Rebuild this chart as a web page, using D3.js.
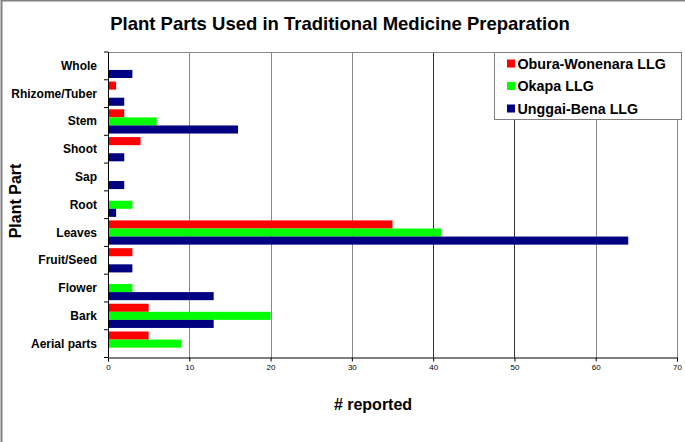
<!DOCTYPE html>
<html>
<head>
<meta charset="utf-8">
<script src="https://cdn.jsdelivr.net/npm/d3@7"></script>
<style>
  body { margin: 0; background: #fff; }
  svg { display: block; font-family: "Liberation Sans", Arial, sans-serif; }
</style>
</head>
<body>
<svg id="chart" width="685" height="442"></svg>
<script>
const categories = ["Whole", "Rhizome/Tuber", "Stem", "Shoot", "Sap", "Root",
  "Leaves", "Fruit/Seed", "Flower", "Bark", "Aerial parts"];
const seriesNames = ["Obura-Wonenara LLG", "Okapa LLG", "Unggai-Bena LLG"];
const obura = [0, 1, 2, 4, 0, 0, 35, 3, 0, 5, 5];
const okapa = [0, 0, 6, 0, 0, 3, 41, 0, 3, 20, 9];
const unggai = [3, 2, 16, 2, 2, 1, 64, 3, 13, 13, 0];
const colors = ["#ff0000", "#00ff00", "#000080"];
const xTicks = [0, 10, 20, 30, 40, 50, 60, 70];

const svg = d3.select("#chart");
const width = 685, height = 442;
const plotL = 108, plotR = 677, plotT = 52, plotB = 357.5;

// outer frame (only top and left edges show in the picture)
svg.append("rect").attr("x", 1.5).attr("y", 0.5)
  .attr("width", width + 10).attr("height", height + 10)
  .attr("fill", "none").attr("stroke", "#808080").attr("stroke-width", 2);

const x = d3.scaleLinear().domain([0, 70]).range([plotL, plotR]);
const y = d3.scaleBand().domain(categories).range([plotT, plotB]);
const inner = d3.scaleBand().domain(seriesNames)
  .range([0, y.bandwidth()]).paddingInner(0).paddingOuter(0.22);

// gridlines
svg.append("g").selectAll("line")
  .data(xTicks.slice(1))
  .enter().append("line")
  .attr("x1", d => Math.round(x(d)) + 0.5).attr("x2", d => Math.round(x(d)) + 0.5)
  .attr("y1", plotT).attr("y2", plotB)
  .attr("stroke", d => d >= 40 && d <= 50 ? "#333" : "#8a8a8a")
  .attr("stroke-width", 1);

// top border of plot area
svg.append("line").attr("x1", plotL).attr("x2", plotR)
  .attr("y1", plotT + 0.5).attr("y2", plotT + 0.5).attr("stroke", "#8a8a8a");

// bars
const data = [obura, okapa, unggai];
seriesNames.forEach((name, si) => {
  svg.append("g").selectAll("rect")
    .data(categories.map((c, i) => ({ c, v: data[si][i] })).filter(d => d.v > 0))
    .enter().append("rect")
    .attr("x", x(0))
    .attr("y", d => y(d.c) + inner(name))
    .attr("width", d => x(d.v) - x(0))
    .attr("height", inner.bandwidth())
    .attr("fill", colors[si]);
});

// x axis
const xAxis = svg.append("g")
  .attr("transform", `translate(0,${plotB})`)
  .call(d3.axisBottom(x).tickValues(xTicks).tickSize(4).tickPadding(3));
xAxis.select(".domain").attr("stroke", "#000");
xAxis.selectAll(".tick line").attr("stroke", "#000");
xAxis.selectAll("text").attr("font-size", 8).attr("fill", "#000")
  .attr("font-family", "'Liberation Sans', Arial, sans-serif");

// y axis: line and ticks between categories
svg.append("line").attr("x1", plotL + 0.5).attr("x2", plotL + 0.5)
  .attr("y1", plotT).attr("y2", plotB).attr("stroke", "#000");
svg.append("g").selectAll("line")
  .data(d3.range(categories.length + 1))
  .enter().append("line")
  .attr("x1", plotL - 4).attr("x2", plotL)
  .attr("y1", i => plotT + i * y.step()).attr("y2", i => plotT + i * y.step())
  .attr("stroke", "#000");
svg.append("g").selectAll("text")
  .data(categories)
  .enter().append("text")
  .attr("x", 97)
  .attr("y", d => y(d) + y.bandwidth() / 2 + 4)
  .attr("text-anchor", "end")
  .attr("font-size", 12).attr("font-weight", "bold")
  .text(d => d);

// titles
svg.append("text").attr("x", 340).attr("y", 29.5)
  .attr("text-anchor", "middle").attr("font-size", 18.5).attr("font-weight", "bold")
  .text("Plant Parts Used in Traditional Medicine Preparation");
svg.append("text").attr("x", 373).attr("y", 410)
  .attr("text-anchor", "middle").attr("font-size", 16).attr("font-weight", "bold")
  .text("# reported");
svg.append("text").attr("transform", "translate(20.5,201) rotate(-90)")
  .attr("text-anchor", "middle").attr("font-size", 16).attr("font-weight", "bold")
  .text("Plant Part");

// legend
const lg = svg.append("g");
lg.append("rect").attr("x", 494.5).attr("y", 52.5).attr("width", 187).attr("height", 67)
  .attr("fill", "#fff").attr("stroke", "#808080");
seriesNames.forEach((name, i) => {
  const cy = 63.5 + i * 22.5;
  lg.append("rect").attr("x", 507).attr("y", cy - 4).attr("width", 8).attr("height", 8)
    .attr("fill", colors[i]);
  lg.append("text").attr("x", 517.5).attr("y", cy + 5)
    .attr("font-size", 14.3).attr("font-weight", "bold").text(name);
});
</script>
</body>
</html>
